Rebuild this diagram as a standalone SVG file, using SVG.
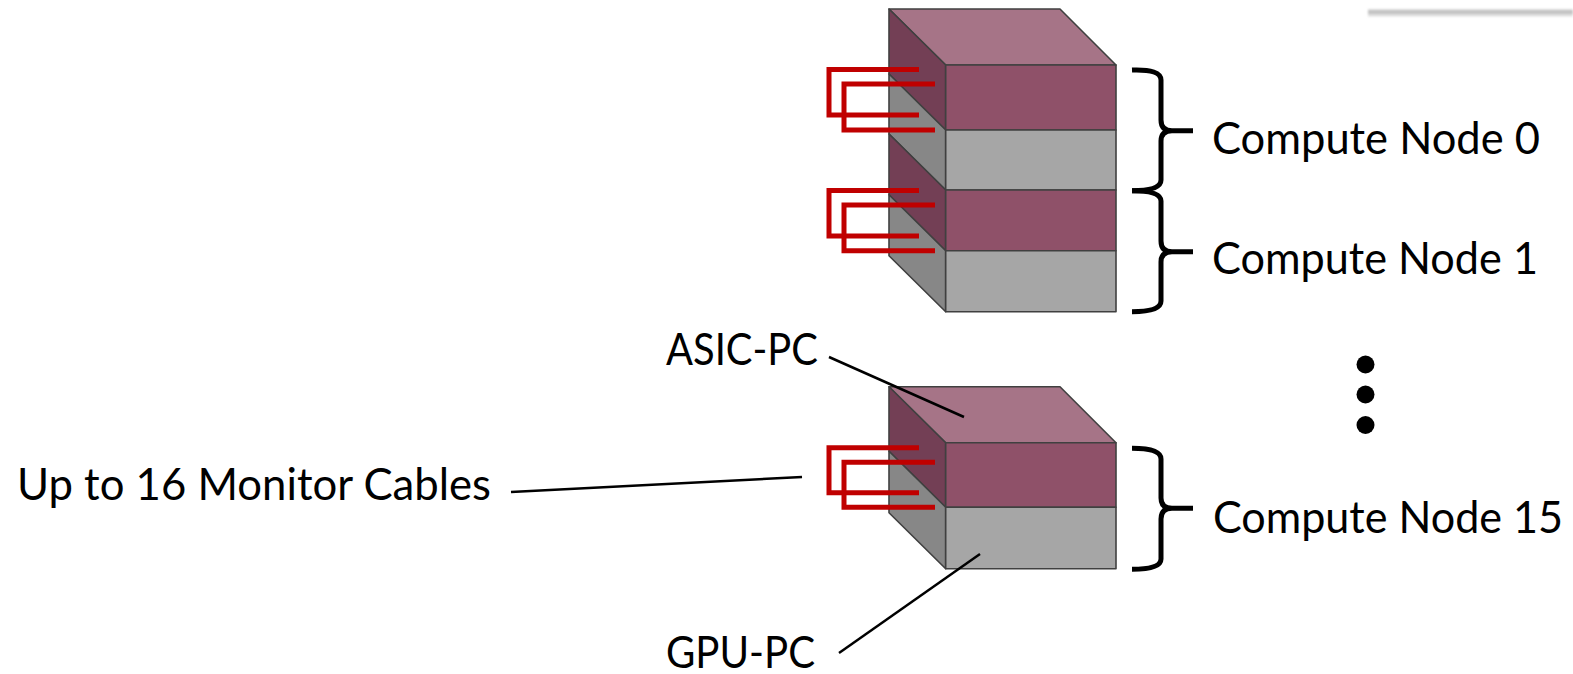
<svg xmlns="http://www.w3.org/2000/svg" width="1573" height="674" viewBox="0 0 1573 674">
<defs>
<linearGradient id="shade" x1="0" y1="0" x2="0" y2="1">
<stop offset="0" stop-color="#e6e6e6"/>
<stop offset="0.35" stop-color="#b9b9b9"/>
<stop offset="1" stop-color="#f4f4f4"/>
</linearGradient>
<filter id="soft" x="-0.1" y="-1" width="1.2" height="3"><feGaussianBlur stdDeviation="1.2"/></filter>
</defs>
<style>
.face{stroke:#404040;stroke-width:1.6;stroke-linejoin:round}
.top{fill:#A67487}
.fp{fill:#8F5169}
.sp{fill:#733F55}
.fg{fill:#A6A6A6}
.sg{fill:#878787}
.cable{fill:none;stroke:#C00000;stroke-width:5;stroke-linejoin:miter}
.brace{fill:none;stroke:#000;stroke-width:5}
.lead{stroke:#000;stroke-width:2.5;fill:none}
.lbl{font-family:Lato,"Open Sans","Liberation Sans",sans-serif;font-size:44px;fill:#000}
</style>
<rect width="1573" height="674" fill="#fff"/>
<rect x="1368" y="9" width="205" height="8" fill="url(#shade)" filter="url(#soft)"/>

<g id="stack-top">
<polygon class="face top" points="889,9 1060,9 1116,65 945.7,65"/>
<polygon class="face sp" points="889,9 945.7,65 945.7,130 889,74"/>
<polygon class="face sg" points="889,74 945.7,130 945.7,190 889,134"/>
<polygon class="face sp" points="889,134 945.7,190 945.7,250.7 889,194.7"/>
<polygon class="face sg" points="889,194.7 945.7,250.7 945.7,311.7 889,255.7"/>
<rect class="face fp" x="945.7" y="65" width="170.3" height="65"/>
<rect class="face fg" x="945.7" y="130" width="170.3" height="60"/>
<rect class="face fp" x="945.7" y="190" width="170.3" height="60.7"/>
<rect class="face fg" x="945.7" y="250.7" width="170.3" height="61"/>
</g>

<g id="stack-bottom">
<polygon class="face top" points="889,386.7 1060,386.7 1116,442.7 945.7,442.7"/>
<polygon class="face sp" points="889,386.7 945.7,442.7 945.7,507.3 889,451.3"/>
<polygon class="face sg" points="889,451.3 945.7,507.3 945.7,568.7 889,512.7"/>
<rect class="face fp" x="945.7" y="442.7" width="170.3" height="64.6"/>
<rect class="face fg" x="945.7" y="507.3" width="170.3" height="61.4"/>
</g>

<g id="cables">
<path class="cable" d="M919,69.5 H829 V115 H919"/>
<path class="cable" d="M935,84 H844 V130 H935"/>
<path class="cable" d="M919,190.5 H829 V236 H919"/>
<path class="cable" d="M935,205 H844 V250.7 H935"/>
<path class="cable" d="M919,447.7 H829 V492.7 H919"/>
<path class="cable" d="M935,462.3 H844 V507.3 H935"/>
</g>

<g id="connectors">
<path class="brace" d="M1132,70 Q1161,69 1161,80 L1161,120 Q1161,130.7 1172,130.7 L1193,130.7 M1172,130.7 Q1161,130.7 1161,141 L1161,180 Q1161,190.7 1132,190.7"/>
<path class="brace" d="M1132,190.7 Q1161,190.7 1161,201 L1161,241 Q1161,251.7 1172,251.7 L1193,251.7 M1172,251.7 Q1161,251.7 1161,262 L1161,301 Q1161,311.7 1132,311.7"/>
<path class="brace" d="M1132,448.3 Q1161,448.3 1161,459 L1161,498 Q1161,508.3 1172,508.3 L1193,508.3 M1172,508.3 Q1161,508.3 1161,519 L1161,559 Q1161,569.3 1132,569.3"/>
<line class="lead" x1="829" y1="357" x2="964" y2="417"/>
<line class="lead" x1="839" y1="653" x2="980" y2="554"/>
<line class="lead" x1="511" y1="492" x2="802" y2="477"/>
</g>

<g id="dots" fill="#000">
<circle cx="1365.5" cy="364.5" r="9"/>
<circle cx="1365.5" cy="394.5" r="9"/>
<circle cx="1365.5" cy="425" r="9"/>
</g>

<g id="labels">
<text class="lbl" x="1212" y="154" textLength="328" lengthAdjust="spacingAndGlyphs">Compute Node 0</text>
<text class="lbl" x="1212" y="274" textLength="326" lengthAdjust="spacingAndGlyphs">Compute Node 1</text>
<text class="lbl" x="1213" y="533" textLength="350" lengthAdjust="spacingAndGlyphs">Compute Node 15</text>
<text class="lbl" x="666" y="365" textLength="152" lengthAdjust="spacingAndGlyphs">ASIC-PC</text>
<text class="lbl" x="666" y="668" textLength="149" lengthAdjust="spacingAndGlyphs">GPU-PC</text>
<text class="lbl" x="17" y="500" textLength="474" lengthAdjust="spacingAndGlyphs">Up to 16 Monitor Cables</text>
</g>
</svg>
